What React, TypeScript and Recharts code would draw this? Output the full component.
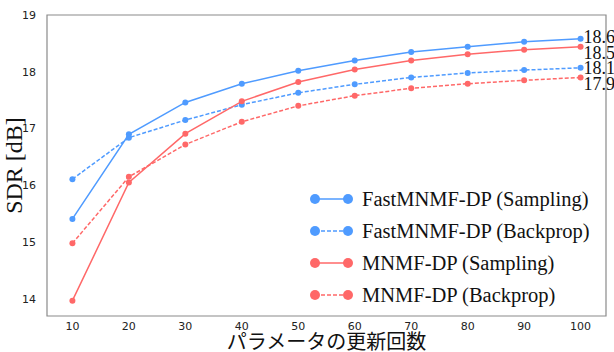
import { LineChart, Line, XAxis, YAxis, ReferenceArea, LabelList, Label } from "recharts";

const iterations = [10, 20, 30, 40, 50, 60, 70, 80, 90, 100];
const fastSampling = [15.41, 16.9, 17.46, 17.79, 18.02, 18.2, 18.35, 18.44, 18.53, 18.58];
const fastBackprop = [16.11, 16.84, 17.15, 17.42, 17.63, 17.78, 17.9, 17.98, 18.03, 18.07];
const mnmfSampling = [13.97, 16.05, 16.91, 17.48, 17.82, 18.04, 18.2, 18.31, 18.39, 18.44];
const mnmfBackprop = [14.98, 16.15, 16.72, 17.12, 17.4, 17.58, 17.71, 17.79, 17.85, 17.9];
const endLabels = ["18.6", "18.1", "18.5", "17.9"];
const yTicks = [14, 15, 16, 17, 18, 19];

const data = iterations.map((it, i) => ({
  it,
  fs: fastSampling[i],
  fb: fastBackprop[i],
  ms: mnmfSampling[i],
  mb: mnmfBackprop[i],
}));

const BLUE = "#4f9bff";
const RED = "#ff6868";
const SERIF = "'Liberation Serif', 'Times New Roman', 'Noto Sans CJK JP', serif";
const TICK = { fontFamily: "'DejaVu Sans', sans-serif", fontSize: 11, fill: "#222" };

const series = [
  { key: "fs", name: "FastMNMF-DP (Sampling)", color: BLUE, dash: undefined, label: endLabels[0], dy: -2 },
  { key: "fb", name: "FastMNMF-DP (Backprop)", color: BLUE, dash: "4 2", label: endLabels[1], dy: 0 },
  { key: "ms", name: "MNMF-DP (Sampling)", color: RED, dash: undefined, label: endLabels[2], dy: 6 },
  { key: "mb", name: "MNMF-DP (Backprop)", color: RED, dash: "4 2", label: endLabels[3], dy: 6 },
];

const endLabel = (text: string, dy: number) => (props: any) => {
  if (props.index !== iterations.length - 1) return null;
  return (
    <text x={props.x + 3} y={props.y + dy} dy="0.35em" fontFamily={SERIF} fontSize={18} fill="#111">
      {text}
    </text>
  );
};

// legend sits inside the plot frame, bottom right
const LegendBox = () => (
  <div style={{ position: "absolute", left: 308, top: 183, fontFamily: SERIF, fontSize: 20.5, color: "#111" }}>
    {series.map((s) => (
      <div key={s.key} style={{ display: "flex", alignItems: "center", height: 32 }}>
        <svg width={48} height={14} style={{ marginRight: 6 }}>
          <line x1={7} y1={7} x2={40} y2={7} stroke={s.color} strokeWidth={1.5} strokeDasharray={s.dash} />
          <circle cx={7} cy={7} r={5} fill={s.color} />
          <circle cx={40} cy={7} r={5} fill={s.color} />
        </svg>
        <span style={{ whiteSpace: "nowrap" }}>{s.name}</span>
      </div>
    ))}
  </div>
);

export default function App() {
  return (
    <div style={{ position: "absolute", left: 0, top: 0, width: 614, height: 352, background: "#fff" }}>
      <LineChart width={614} height={352} data={data} margin={{ top: 15, right: 8, left: 5, bottom: 16 }}>
        <XAxis
          dataKey="it"
          type="number"
          domain={[5.5, 104.5]}
          allowDataOverflow
          ticks={iterations}
          tickLine={false}
          axisLine={false}
          tick={TICK}
          tickMargin={0}
          height={20}
        >
          <Label value="パラメータの更新回数" position="insideBottom" offset={-13} style={{ fontFamily: SERIF, fontSize: 20, fill: "#111" }} />
        </XAxis>
        <YAxis
          type="number"
          domain={[13.7, 19]}
          allowDataOverflow
          ticks={yTicks}
          tickLine={false}
          axisLine={false}
          tick={TICK}
          tickMargin={5}
          width={42}
        >
          <Label value="SDR  [dB]" angle={-90} position="insideLeft" offset={8} style={{ fontFamily: SERIF, fontSize: 24, fill: "#111", textAnchor: "middle" }} />
        </YAxis>
        <ReferenceArea x1={5.5} x2={104.5} y1={13.7} y2={19} fill="none" stroke="#8a8a8a" strokeWidth={1.2} />
        {series.map((s) => (
          <Line
            key={s.key}
            dataKey={s.key}
            name={s.name}
            stroke={s.color}
            strokeWidth={1.5}
            strokeDasharray={s.dash}
            dot={{ r: 3, fill: s.color, stroke: "none" }}
            activeDot={false}
            isAnimationActive={false}
          >
            <LabelList dataKey={s.key} content={endLabel(s.label, s.dy)} />
          </Line>
        ))}
      </LineChart>
      <LegendBox />
    </div>
  );
}
